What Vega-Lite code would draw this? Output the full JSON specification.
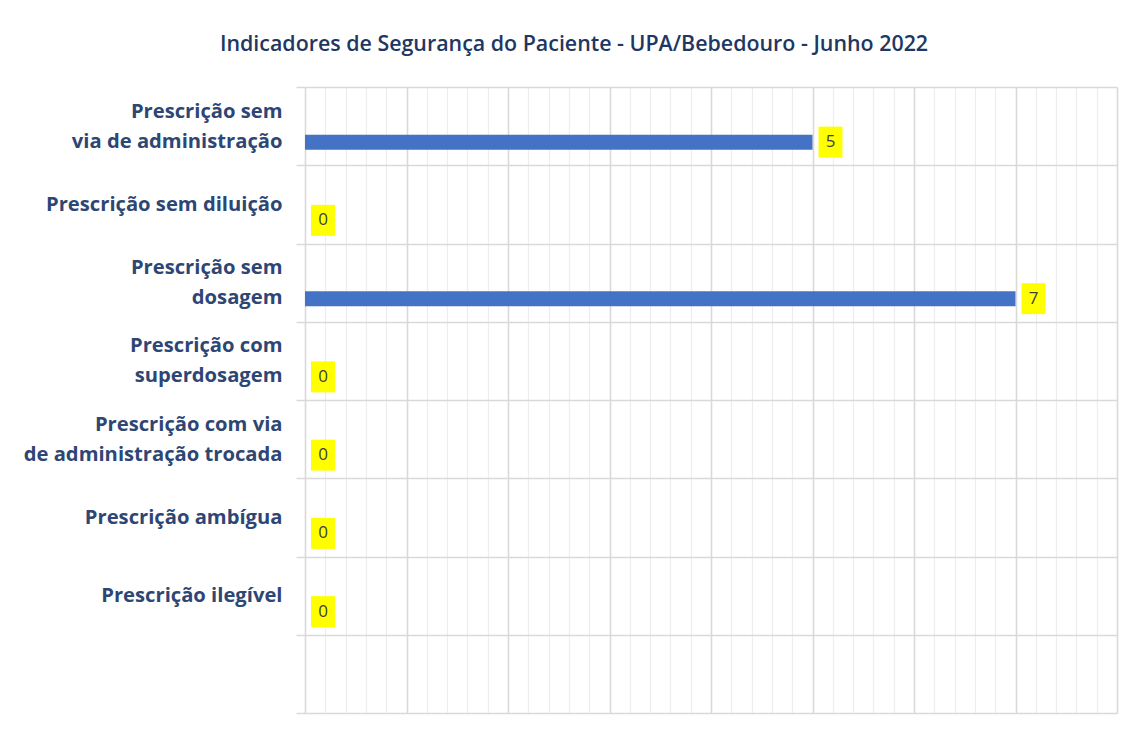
{
  "$schema": "https://vega.github.io/schema/vega-lite/v6.json",
  "width": 812,
  "height": 626,
  "autosize": "none",
  "padding": {"left": 305, "top": 87, "right": 13, "bottom": 16},
  "background": "white",
  "title": {
    "text": "Indicadores de Segurança do Paciente - UPA/Bebedouro - Junho 2022",
    "anchor": "middle",
    "frame": "group",
    "dx": -137,
    "offset": 22,
    "font": "Open Sans",
    "fontSize": 21.4,
    "fontWeight": 600,
    "color": "#213763"
  },
  "data": {
    "values": [
      {"indicador": "Prescrição sem\nvia de administração", "valor": 5},
      {"indicador": "Prescrição sem diluição", "valor": 0},
      {"indicador": "Prescrição sem\ndosagem", "valor": 7},
      {"indicador": "Prescrição com\nsuperdosagem", "valor": 0},
      {"indicador": "Prescrição com via\nde administração trocada", "valor": 0},
      {"indicador": "Prescrição ambígua", "valor": 0},
      {"indicador": "Prescrição ilegível", "valor": 0}
    ]
  },
  "encoding": {
    "y": {
      "field": "indicador",
      "type": "nominal",
      "sort": null,
      "scale": {
        "domain": [
          "Prescrição sem\nvia de administração",
          "Prescrição sem diluição",
          "Prescrição sem\ndosagem",
          "Prescrição com\nsuperdosagem",
          "Prescrição com via\nde administração trocada",
          "Prescrição ambígua",
          "Prescrição ilegível",
          " "
        ],
        "paddingInner": 0,
        "paddingOuter": 0
      },
      "axis": {
        "title": null,
        "labelExpr": "isString(datum.value) ? split(datum.value, '\\n') : ''",
        "labelFont": "Open Sans",
        "labelFontSize": 20.2,
        "labelFontWeight": "bold",
        "labelColor": "#2E4674",
        "labelLineHeight": 30,
        "labelPadding": 14,
        "labelLimit": 400,
        "labelOffset": {
          "condition": {"test": "isString(datum.value) && indexof(datum.value, '\\n') >= 0", "value": -15},
          "value": 0
        },
        "tickBand": "extent",
        "tickSize": 9,
        "tickColor": "#d9d9d9",
        "tickWidth": 1.5,
        "grid": true,
        "gridColor": "#d9d9d9",
        "gridWidth": 1.5,
        "domain": false
      }
    }
  },
  "layer": [
    {
      "mark": {
        "type": "point",
        "shape": "M-0.774,-1H0.774V1H-0.774Z",
        "size": 961,
        "filled": true,
        "opacity": 1,
        "color": "#FFFF00",
        "xOffset": 18,
        "yOffset": 16
      },
      "encoding": {
        "x": {
          "field": "valor",
          "type": "quantitative",
          "scale": {"domain": [0, 8], "nice": false},
          "axis": {
            "values": [0.2,0.4,0.6,0.8,1.2,1.4,1.6,1.8,2.2,2.4,2.6,2.8,3.2,3.4,3.6,3.8,4.2,4.4,4.6,4.8,5.2,5.4,5.6,5.8,6.2,6.4,6.6,6.8,7.2,7.4,7.6,7.8],
            "grid": true,
            "gridColor": "#ededed",
            "gridWidth": 1.2,
            "labels": false,
            "ticks": false,
            "domain": false,
            "title": null
          }
        }
      }
    },
    {
      "mark": {"type": "bar", "color": "#4472C4", "height": 15, "yOffset": 16},
      "encoding": {
        "x": {
          "field": "valor",
          "type": "quantitative",
          "axis": {
            "values": [0,1,2,3,4,5,6,7,8],
            "grid": true,
            "gridColor": "#d9d9d9",
            "gridWidth": 1.6,
            "labels": false,
            "ticks": false,
            "domain": false,
            "title": null
          }
        }
      }
    },
    {
      "mark": {
        "type": "text",
        "font": "Open Sans",
        "fontSize": 17,
        "color": "#404040",
        "xOffset": 18,
        "yOffset": 16,
        "align": "center",
        "baseline": "middle"
      },
      "encoding": {
        "x": {"field": "valor", "type": "quantitative", "axis": null},
        "text": {"field": "valor", "type": "quantitative"}
      }
    }
  ],
  "resolve": {"axis": {"x": "independent"}},
  "config": {"view": {"stroke": null}}
}
